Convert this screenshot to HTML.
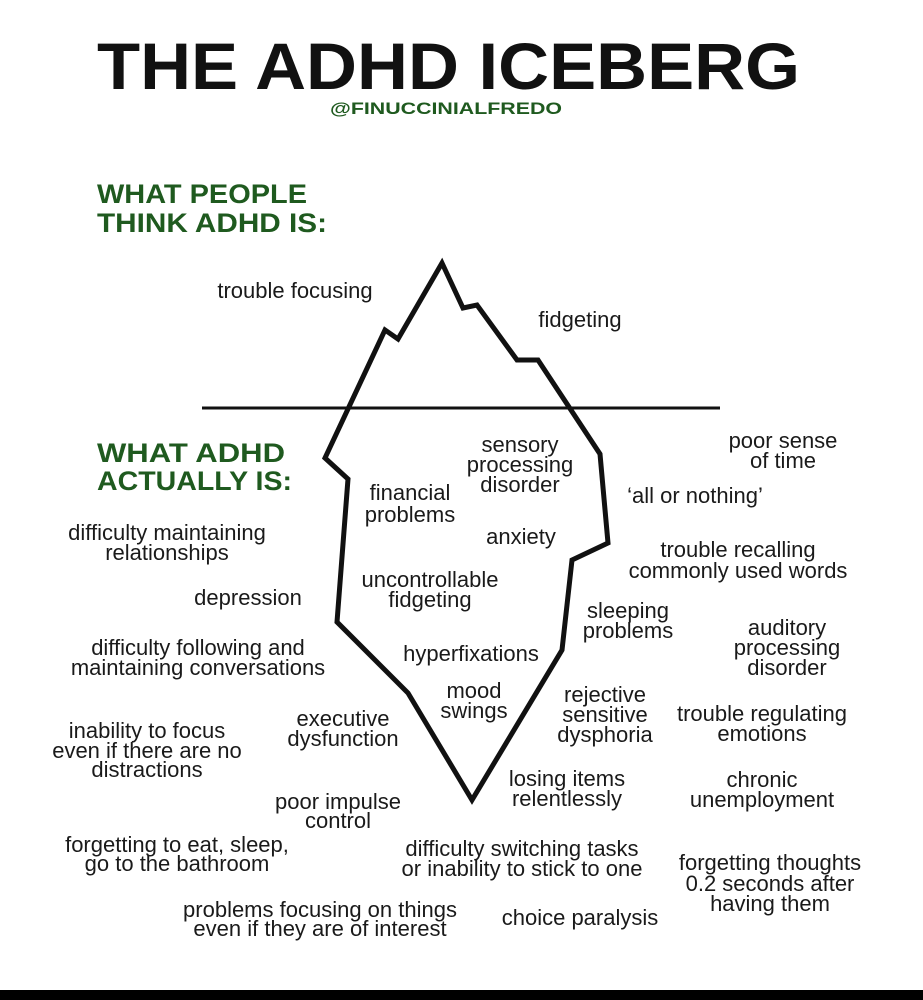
<!DOCTYPE html>
<html><head><meta charset="utf-8"><style>
html,body{margin:0;padding:0;background:#fff;width:923px;height:1000px;overflow:hidden}
svg{display:block}
.t{font-family:"Liberation Sans",sans-serif;font-size:22px;fill:#1a1a1a;text-anchor:middle}
.g{font-family:"Liberation Sans",sans-serif;font-size:27px;font-weight:bold;fill:#1f5a1f}
</style></head><body>
<svg width="923" height="1000" viewBox="0 0 923 1000">
<rect width="923" height="1000" fill="#fff"/>
<text x="97" y="89" textLength="703" lengthAdjust="spacingAndGlyphs" style="font-family:'Liberation Sans',sans-serif;font-size:66px;font-weight:bold;fill:#111">THE ADHD ICEBERG</text>
<text x="330" y="114" textLength="232" lengthAdjust="spacingAndGlyphs" style="font-family:'Liberation Sans',sans-serif;font-size:17px;font-weight:bold;fill:#1f5a1f">@FINUCCINIALFREDO</text>
<text class="g" x="97" y="203" textLength="210" lengthAdjust="spacingAndGlyphs">WHAT PEOPLE</text>
<text class="g" x="97" y="232" textLength="230" lengthAdjust="spacingAndGlyphs">THINK ADHD IS:</text>
<text class="g" x="97" y="462" textLength="188" lengthAdjust="spacingAndGlyphs">WHAT ADHD</text>
<text class="g" x="97" y="490" textLength="195" lengthAdjust="spacingAndGlyphs">ACTUALLY IS:</text>
<line x1="202" y1="408" x2="720" y2="408" stroke="#111" stroke-width="3"/>
<polygon points="442,263 463,308 477,305 517,360 538,360 600,454 608,543 572,560 562,650 472,800 408,693 337,622 348,479 325,458 385,330 398,339" fill="none" stroke="#111" stroke-width="5" stroke-linejoin="miter"/>
<g>
<text class="t" x="295" y="298">trouble focusing</text>
<text class="t" x="580" y="327">fidgeting</text>
<text class="t" x="520" y="452">sensory</text><text class="t" x="520" y="472">processing</text><text class="t" x="520" y="492">disorder</text>
<text class="t" x="783" y="448">poor sense</text><text class="t" x="783" y="468">of time</text>
<text class="t" x="410" y="500">financial</text><text class="t" x="410" y="522">problems</text>
<text class="t" x="695" y="503">‘all or nothing’</text>
<text class="t" x="167" y="540">difficulty maintaining</text><text class="t" x="167" y="560">relationships</text>
<text class="t" x="521" y="544">anxiety</text>
<text class="t" x="738" y="557">trouble recalling</text><text class="t" x="738" y="578">commonly used words</text>
<text class="t" x="430" y="587">uncontrollable</text><text class="t" x="430" y="607">fidgeting</text>
<text class="t" x="248" y="605">depression</text>
<text class="t" x="628" y="618">sleeping</text><text class="t" x="628" y="638">problems</text>
<text class="t" x="787" y="635">auditory</text><text class="t" x="787" y="655">processing</text><text class="t" x="787" y="675">disorder</text>
<text class="t" x="198" y="655">difficulty following and</text><text class="t" x="198" y="675">maintaining conversations</text>
<text class="t" x="471" y="661">hyperfixations</text>
<text class="t" x="474" y="698">mood</text><text class="t" x="474" y="718">swings</text>
<text class="t" x="605" y="702">rejective</text><text class="t" x="605" y="722">sensitive</text><text class="t" x="605" y="742">dysphoria</text>
<text class="t" x="343" y="726">executive</text><text class="t" x="343" y="746">dysfunction</text>
<text class="t" x="762" y="721">trouble regulating</text><text class="t" x="762" y="741">emotions</text>
<text class="t" x="147" y="738">inability to focus</text><text class="t" x="147" y="758">even if there are no</text><text class="t" x="147" y="777">distractions</text>
<text class="t" x="567" y="786">losing items</text><text class="t" x="567" y="806">relentlessly</text>
<text class="t" x="762" y="787">chronic</text><text class="t" x="762" y="807">unemployment</text>
<text class="t" x="338" y="809">poor impulse</text><text class="t" x="338" y="828">control</text>
<text class="t" x="177" y="852">forgetting to eat, sleep,</text><text class="t" x="177" y="871">go to the bathroom</text>
<text class="t" x="522" y="856">difficulty switching tasks</text><text class="t" x="522" y="876">or inability to stick to one</text>
<text class="t" x="770" y="870">forgetting thoughts</text><text class="t" x="770" y="891">0.2 seconds after</text><text class="t" x="770" y="911">having them</text>
<text class="t" x="320" y="917">problems focusing on things</text><text class="t" x="320" y="936">even if they are of interest</text>
<text class="t" x="580" y="925">choice paralysis</text>
</g>
<rect x="0" y="990" width="923" height="10" fill="#000"/>
</svg>
</body></html>
